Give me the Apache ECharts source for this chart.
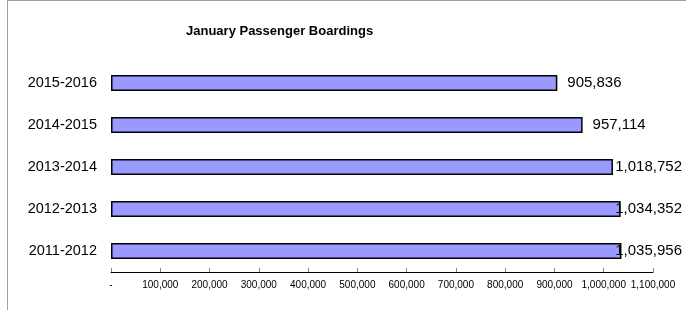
<!DOCTYPE html>
<html>
<head>
<meta charset="utf-8">
<script src="https://cdn.jsdelivr.net/npm/echarts@6/dist/echarts.min.js"></script>
<style>
  html, body { margin: 0; padding: 0; background: #fff; }
  #bar { width: 686px; height: 310px; }
</style>
</head>
<body>
<div id="bar"></div>
<script>
var seasons = ['2015-2016', '2014-2015', '2013-2014', '2012-2013', '2011-2012'];
var boardings = [905836, 957114, 1018752, 1034352, 1035956];
var axisMax = 1100000;
var axisStep = 100000;

var fmt = function (v) {
  return v === 0 ? '-' : v.toLocaleString('en-US');
};

var myChart = echarts.init(document.getElementById('bar'));
var option = {
  animation: false,
  textStyle: { fontFamily: 'Liberation Sans, Arial, sans-serif' },
  title: {
    text: 'January Passenger Boardings',
    left: 186,
    top: 25,
    padding: 0,
    textStyle: { fontSize: 13, fontWeight: 'bold', color: '#000' }
  },
  graphic: [
    { type: 'line', shape: { x1: 7.5, y1: 0, x2: 7.5, y2: 310 }, style: { stroke: '#a0a0a0', lineWidth: 1 } },
    { type: 'line', shape: { x1: 7, y1: 0.5, x2: 686, y2: 0.5 }, style: { stroke: '#a0a0a0', lineWidth: 1 } }
  ],
  grid: { left: 111, right: 33, top: 62, bottom: 38, containLabel: false },
  xAxis: {
    type: 'value',
    min: 0,
    max: axisMax,
    interval: axisStep,
    axisLine: { show: true, lineStyle: { color: '#000', width: 1 } },
    axisTick: { show: true, inside: true, length: 4, lineStyle: { color: '#808080' } },
    splitLine: { show: false },
    axisLabel: {
      fontSize: 10,
      color: '#000',
      margin: 8,
      formatter: fmt
    }
  },
  yAxis: {
    type: 'category',
    inverse: true,
    data: seasons,
    axisLine: { show: false },
    axisTick: { show: false },
    axisLabel: { fontSize: 14.5, color: '#000', margin: 14 }
  },
  series: [
    {
      type: 'bar',
      data: boardings,
      barWidth: 16,
      itemStyle: { color: '#9999ff', borderColor: '#000', borderWidth: 1.5 },
      label: {
        show: true,
        position: 'right',
        distance: 10,
        fontSize: 15,
        color: '#000',
        formatter: function (p) { return fmt(p.value); }
      },
      labelLayout: function (p) {
        var r = p.labelRect;
        return {
          x: Math.min(r.x, 682 - r.width),
          y: r.y,
          align: 'left',
          verticalAlign: 'top'
        };
      }
    }
  ]
};
myChart.setOption(option);
</script>
</body>
</html>
